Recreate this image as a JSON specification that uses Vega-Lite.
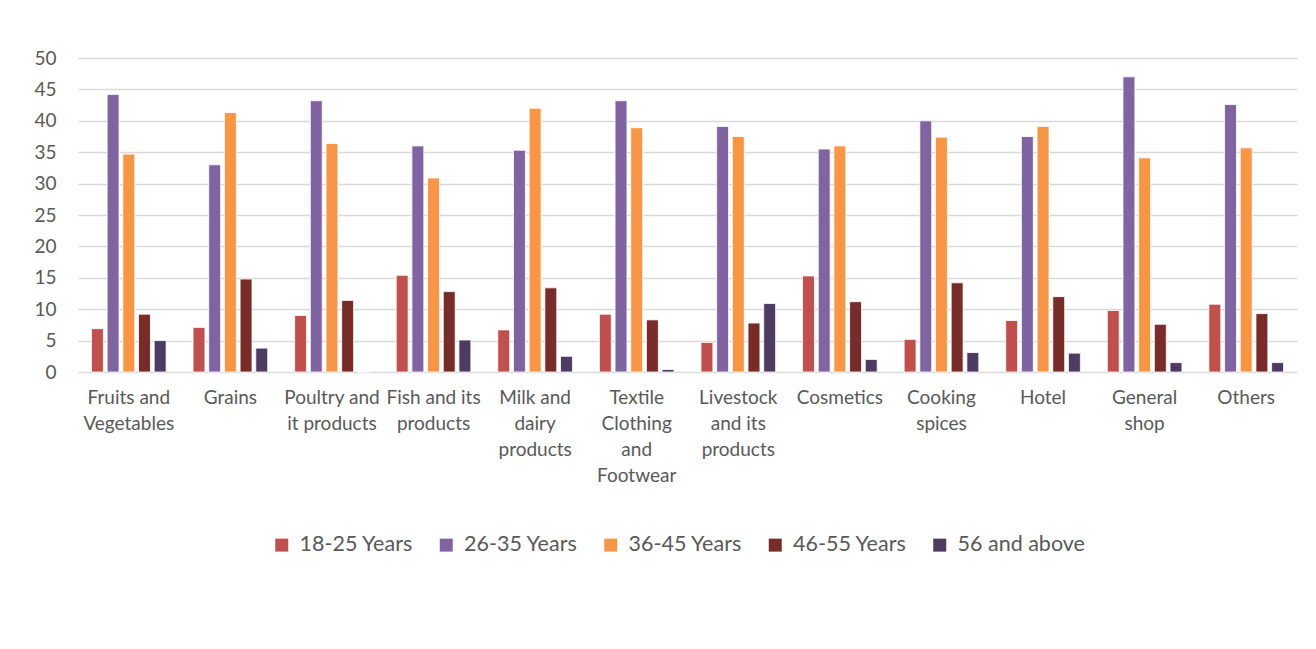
{
  "$schema": "https://vega.github.io/schema/vega-lite/v6.json",
  "width": 1219,
  "height": 314,
  "autosize": "none",
  "padding": {"left": 78, "top": 58, "right": 19, "bottom": 277},
  "background": "white",
  "config": {
    "font": "Lato",
    "view": {"stroke": null},
    "axis": {"labelColor": "#595959", "labelFont": "Lato", "labelFontSize": 19},
    "legend": {"labelColor": "#595959", "labelFont": "Lato", "labelFontSize": 21.5}
  },
  "data": {
    "values": [
      {"category": "Fruits and Vegetables", "age": "18-25 Years", "value": 6.9},
      {"category": "Fruits and Vegetables", "age": "26-35 Years", "value": 44.2},
      {"category": "Fruits and Vegetables", "age": "36-45 Years", "value": 34.7},
      {"category": "Fruits and Vegetables", "age": "46-55 Years", "value": 9.2},
      {"category": "Fruits and Vegetables", "age": "56 and above", "value": 5.0},
      {"category": "Grains", "age": "18-25 Years", "value": 7.1},
      {"category": "Grains", "age": "26-35 Years", "value": 33.0},
      {"category": "Grains", "age": "36-45 Years", "value": 41.3},
      {"category": "Grains", "age": "46-55 Years", "value": 14.8},
      {"category": "Grains", "age": "56 and above", "value": 3.8},
      {"category": "Poultry and it products", "age": "18-25 Years", "value": 9.0},
      {"category": "Poultry and it products", "age": "26-35 Years", "value": 43.2},
      {"category": "Poultry and it products", "age": "36-45 Years", "value": 36.4},
      {"category": "Poultry and it products", "age": "46-55 Years", "value": 11.4},
      {"category": "Poultry and it products", "age": "56 and above", "value": 0},
      {"category": "Fish and its products", "age": "18-25 Years", "value": 15.4},
      {"category": "Fish and its products", "age": "26-35 Years", "value": 36.0},
      {"category": "Fish and its products", "age": "36-45 Years", "value": 30.9},
      {"category": "Fish and its products", "age": "46-55 Years", "value": 12.8},
      {"category": "Fish and its products", "age": "56 and above", "value": 5.1},
      {"category": "Milk and dairy products", "age": "18-25 Years", "value": 6.7},
      {"category": "Milk and dairy products", "age": "26-35 Years", "value": 35.3},
      {"category": "Milk and dairy products", "age": "36-45 Years", "value": 42.0},
      {"category": "Milk and dairy products", "age": "46-55 Years", "value": 13.4},
      {"category": "Milk and dairy products", "age": "56 and above", "value": 2.5},
      {"category": "Textile Clothing and Footwear", "age": "18-25 Years", "value": 9.2},
      {"category": "Textile Clothing and Footwear", "age": "26-35 Years", "value": 43.2},
      {"category": "Textile Clothing and Footwear", "age": "36-45 Years", "value": 38.9},
      {"category": "Textile Clothing and Footwear", "age": "46-55 Years", "value": 8.3},
      {"category": "Textile Clothing and Footwear", "age": "56 and above", "value": 0.4},
      {"category": "Livestock and its products", "age": "18-25 Years", "value": 4.7},
      {"category": "Livestock and its products", "age": "26-35 Years", "value": 39.1},
      {"category": "Livestock and its products", "age": "36-45 Years", "value": 37.5},
      {"category": "Livestock and its products", "age": "46-55 Years", "value": 7.8},
      {"category": "Livestock and its products", "age": "56 and above", "value": 10.9},
      {"category": "Cosmetics", "age": "18-25 Years", "value": 15.3},
      {"category": "Cosmetics", "age": "26-35 Years", "value": 35.5},
      {"category": "Cosmetics", "age": "36-45 Years", "value": 36.0},
      {"category": "Cosmetics", "age": "46-55 Years", "value": 11.2},
      {"category": "Cosmetics", "age": "56 and above", "value": 2.0},
      {"category": "Cooking spices", "age": "18-25 Years", "value": 5.2},
      {"category": "Cooking spices", "age": "26-35 Years", "value": 40.0},
      {"category": "Cooking spices", "age": "36-45 Years", "value": 37.4},
      {"category": "Cooking spices", "age": "46-55 Years", "value": 14.2},
      {"category": "Cooking spices", "age": "56 and above", "value": 3.1},
      {"category": "Hotel", "age": "18-25 Years", "value": 8.2},
      {"category": "Hotel", "age": "26-35 Years", "value": 37.5},
      {"category": "Hotel", "age": "36-45 Years", "value": 39.1},
      {"category": "Hotel", "age": "46-55 Years", "value": 12.0},
      {"category": "Hotel", "age": "56 and above", "value": 3.0},
      {"category": "General shop", "age": "18-25 Years", "value": 9.8},
      {"category": "General shop", "age": "26-35 Years", "value": 47.0},
      {"category": "General shop", "age": "36-45 Years", "value": 34.1},
      {"category": "General shop", "age": "46-55 Years", "value": 7.6},
      {"category": "General shop", "age": "56 and above", "value": 1.5},
      {"category": "Others", "age": "18-25 Years", "value": 10.8},
      {"category": "Others", "age": "26-35 Years", "value": 42.6},
      {"category": "Others", "age": "36-45 Years", "value": 35.7},
      {"category": "Others", "age": "46-55 Years", "value": 9.3},
      {"category": "Others", "age": "56 and above", "value": 1.5}
    ]
  },
  "mark": {"type": "bar", "stroke": "white", "strokeWidth": 0.8},
  "encoding": {
    "x": {
      "field": "category",
      "type": "nominal",
      "sort": null,
      "scale": {"paddingInner": 0.265, "paddingOuter": 0.1325},
      "axis": {
        "title": null,
        "labelAngle": 0,
        "domain": false,
        "ticks": false,
        "labelPadding": 16,
        "labelLineHeight": 26,
        "labelLimit": 0,
        "labelExpr": "{'Fruits and Vegetables': ['Fruits and', 'Vegetables'], 'Poultry and it products': ['Poultry and', 'it products'], 'Fish and its products': ['Fish and its', 'products'], 'Milk and dairy products': ['Milk and', 'dairy', 'products'], 'Textile Clothing and Footwear': ['Textile', 'Clothing', 'and', 'Footwear'], 'Livestock and its products': ['Livestock', 'and its', 'products'], 'Cooking spices': ['Cooking', 'spices'], 'General shop': ['General', 'shop']}[datum.label] || datum.label"
      }
    },
    "xOffset": {
      "field": "age",
      "type": "nominal",
      "sort": null,
      "scale": {"paddingInner": 0.24}
    },
    "y": {
      "field": "value",
      "type": "quantitative",
      "scale": {"domain": [0, 50], "nice": false},
      "axis": {
        "title": null,
        "values": [0, 5, 10, 15, 20, 25, 30, 35, 40, 45, 50],
        "domain": false,
        "ticks": false,
        "labelPadding": 22,
        "gridColor": "#d9d9d9",
        "gridWidth": 1.6
      }
    },
    "color": {
      "field": "age",
      "type": "nominal",
      "sort": null,
      "scale": {
        "domain": ["18-25 Years", "26-35 Years", "36-45 Years", "46-55 Years", "56 and above"],
        "range": ["#C0504D", "#8064A2", "#F79646", "#772C2A", "#4D3B62"]
      },
      "legend": {
        "title": null,
        "orient": "none",
        "direction": "horizontal",
        "legendX": 193,
        "legendY": 476,
        "columns": 5,
        "gridAlign": "all",
        "columnPadding": 8.5,
        "symbolType": "square",
        "symbolSize": 169,
        "symbolStrokeWidth": 0,
        "labelOffset": 7
      }
    }
  }
}
